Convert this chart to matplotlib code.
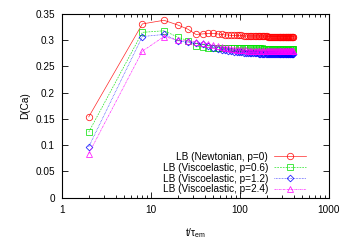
import numpy as np
import matplotlib
matplotlib.use("Agg")
import matplotlib.pyplot as plt
from matplotlib.ticker import FixedLocator, LogLocator, NullFormatter

plt.rcParams["font.family"] = ["Liberation Sans", "DejaVu Sans"]
plt.rcParams["mathtext.fontset"] = "custom"
plt.rcParams["mathtext.rm"] = "Liberation Sans"
plt.rcParams["mathtext.it"] = "Liberation Sans"

times = [2, 8, 14, 20, 26, 32, 38, 44, 50, 56, 62, 68, 74, 80, 86, 92, 98,
         104, 110, 116, 122, 128, 134, 140, 146, 152, 158, 164, 170, 176, 182,
         188, 194, 200, 206, 212, 218, 224, 230, 236, 242, 248, 254, 260, 266,
         272, 278, 284, 290, 296, 302, 308, 314, 320, 326, 332, 338, 344, 350,
         356, 362, 368, 374, 380, 386, 392, 398]

newtonian = [0.154, 0.331, 0.338, 0.329, 0.321, 0.311, 0.312, 0.313, 0.313, 0.312,
             0.311, 0.310, 0.310, 0.309, 0.309, 0.309, 0.309, 0.309, 0.308, 0.308,
             0.308, 0.308, 0.308, 0.308, 0.308, 0.308, 0.308, 0.308, 0.308, 0.308,
             0.308, 0.308, 0.308, 0.308, 0.307, 0.307, 0.307, 0.307, 0.307, 0.307,
             0.307, 0.307, 0.307, 0.307, 0.307, 0.307, 0.307, 0.307, 0.307, 0.307,
             0.307, 0.307, 0.307, 0.307, 0.307, 0.307, 0.307, 0.307, 0.307, 0.307,
             0.307, 0.307, 0.307, 0.307, 0.307, 0.307, 0.307]

visco_06 = [0.125, 0.315, 0.318, 0.306, 0.299, 0.289, 0.287, 0.286, 0.286, 0.286,
            0.286, 0.286, 0.285, 0.285, 0.285, 0.285, 0.285, 0.285, 0.285, 0.285,
            0.285, 0.285, 0.285, 0.285, 0.285, 0.285, 0.285, 0.285, 0.285, 0.285,
            0.284, 0.284, 0.284, 0.284, 0.284, 0.284, 0.284, 0.284, 0.284, 0.284,
            0.284, 0.284, 0.284, 0.284, 0.284, 0.284, 0.284, 0.284, 0.284, 0.284,
            0.284, 0.284, 0.284, 0.284, 0.284, 0.284, 0.284, 0.284, 0.284, 0.284,
            0.284, 0.284, 0.284, 0.284, 0.284, 0.284, 0.284]

visco_12 = [0.097, 0.307, 0.311, 0.299, 0.296, 0.294, 0.292, 0.289, 0.286, 0.283,
            0.282, 0.281, 0.280, 0.279, 0.278, 0.278, 0.277, 0.277, 0.276, 0.276,
            0.276, 0.275, 0.275, 0.275, 0.275, 0.275, 0.275, 0.274, 0.274, 0.274,
            0.274, 0.274, 0.274, 0.274, 0.274, 0.274, 0.274, 0.274, 0.274, 0.274,
            0.274, 0.274, 0.274, 0.274, 0.274, 0.274, 0.274, 0.274, 0.274, 0.274,
            0.274, 0.274, 0.274, 0.274, 0.274, 0.274, 0.274, 0.274, 0.274, 0.274,
            0.274, 0.274, 0.274, 0.274, 0.274, 0.274, 0.274]

visco_24 = [0.084, 0.279, 0.307, 0.300, 0.299, 0.297, 0.295, 0.293, 0.291, 0.289,
            0.287, 0.286, 0.285, 0.284, 0.283, 0.282, 0.282, 0.281, 0.281, 0.281,
            0.280, 0.280, 0.280, 0.280, 0.280, 0.280, 0.280, 0.280, 0.280, 0.280,
            0.280, 0.280, 0.280, 0.280, 0.280, 0.280, 0.280, 0.280, 0.280, 0.280,
            0.279, 0.279, 0.279, 0.279, 0.279, 0.279, 0.279, 0.279, 0.279, 0.279,
            0.279, 0.279, 0.279, 0.279, 0.279, 0.279, 0.279, 0.279, 0.279, 0.279,
            0.279, 0.279, 0.279, 0.279, 0.279, 0.279, 0.279]

labels = ["LB (Newtonian, p=0)", "LB (Viscoelastic, p=0.6)",
          "LB (Viscoelastic, p=1.2)", "LB (Viscoelastic, p=2.4)"]
yticks = [0, 0.05, 0.1, 0.15, 0.2, 0.25, 0.3, 0.35]
ytick_labels = ["0", "0.05", "0.1", "0.15", "0.2", "0.25", "0.3", "0.35"]
xticks = [1, 10, 100, 1000]

fig = plt.figure(figsize=(3.5, 2.45), dpi=100)
ax = fig.add_axes([0.177, 0.193, 0.763, 0.75])

series = [newtonian, visco_06, visco_12, visco_24]
colors = ["#ff0000", "#00e000", "#0000ff", "#ff00ff"]
markers = ["o", "s", "D", "^"]
msizes = [4.6, 4.6, 3.4, 4.6]
styles = ["-", (0, (2.5, 1.5)), (0, (1, 1.2)), (0, (3, 1, 1, 1))]

for vals, c, m, ms, ls, lab in zip(series, colors, markers, msizes, styles, labels):
    ax.plot(times, vals, color=c, marker=m, ms=ms, mfc="none", mec=c,
            mew=0.6, lw=0.5, ls=ls, label=lab, alpha=0.85)

ax.set_xscale("log")
ax.set_xlim(1, 1000)
ax.set_ylim(0, 0.35)
ax.xaxis.set_major_locator(FixedLocator(xticks))
ax.set_xticklabels([str(v) for v in xticks])
ax.xaxis.set_minor_locator(LogLocator(base=10, subs=np.arange(2, 10)))
ax.xaxis.set_minor_formatter(NullFormatter())
ax.set_yticks(yticks)
ax.set_yticklabels(ytick_labels)

ax.tick_params(which="both", direction="in", top=True, right=True,
               labelsize=7.2, width=0.6, pad=5)
ax.tick_params(which="major", length=4)
ax.tick_params(which="minor", length=2)
for s in ax.spines.values():
    s.set_linewidth(0.8)

ax.set_xlabel(r"t/$\tau_{\rm em}$", fontsize=7.2, labelpad=8)
ax.set_ylabel("D(Ca)", fontsize=7.2, labelpad=4)

ax.legend(loc="lower right", bbox_to_anchor=(0.94, -0.02), frameon=False,
          markerfirst=False, fontsize=7.2, handlelength=3.2, handletextpad=0.6,
          labelspacing=0.08, borderpad=0.2)
for t in ax.get_legend().get_texts():
    t.set_ha("right")

fig.savefig("out.png", dpi=100)
